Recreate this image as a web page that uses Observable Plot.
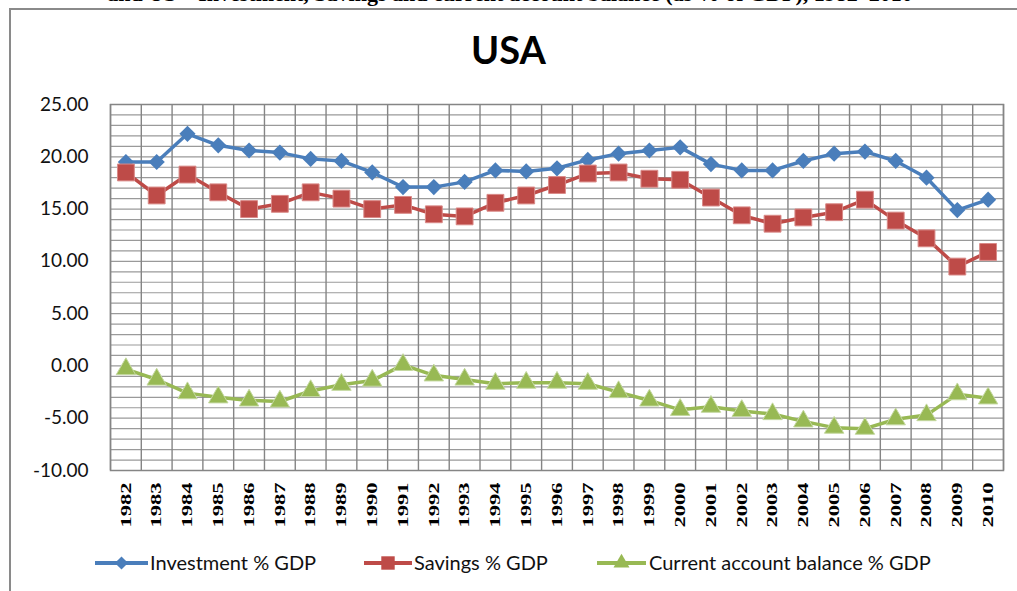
<!DOCTYPE html>
<html><head><meta charset="utf-8">
<script src="https://cdn.jsdelivr.net/npm/d3@7"></script>
<script src="https://cdn.jsdelivr.net/npm/@observablehq/plot@0.6"></script>
<style>
body{margin:0;background:#fff;}
#wrap{position:relative;width:1017px;height:591px;overflow:hidden;background:#fff;}
#frame{position:absolute;left:9px;top:8px;width:1040px;height:620px;border:2.5px solid #8a8a8a;box-sizing:border-box;}
#cap{position:absolute;left:-40px;top:-19px;width:1100px;white-space:nowrap;font:bold 22px "Liberation Serif";text-align:center;color:#000;}
#title{position:absolute;top:26px;left:0;width:1017px;text-align:center;font:bold 38px Lato;color:#000;}
#chart{position:absolute;left:0;top:80px;}
#legend{position:absolute;left:0;top:545px;}
</style></head>
<body><div id="wrap">
<div id="cap">and US – Investment, Savings and current account balance (as % of GDP), 1982–2010</div>
<div id="frame"></div>
<div id="title">USA</div>
<div id="chart"></div>
<div id="legend"></div>
</div>
<script>
const years = [1982,1983,1984,1985,1986,1987,1988,1989,1990,1991,1992,1993,1994,1995,1996,1997,1998,1999,2000,2001,2002,2003,2004,2005,2006,2007,2008,2009,2010];
const investment = [19.5,19.5,22.2,21.1,20.6,20.4,19.8,19.6,18.5,17.1,17.1,17.6,18.7,18.6,18.9,19.7,20.3,20.6,20.9,19.3,18.7,18.7,19.6,20.3,20.5,19.6,18.0,14.9,15.9];
const savings = [18.5,16.3,18.3,16.6,15.0,15.5,16.6,16.0,15.0,15.4,14.5,14.3,15.6,16.3,17.3,18.4,18.5,17.9,17.8,16.1,14.4,13.6,14.2,14.7,15.9,13.9,12.2,9.5,10.9];
const currentAccount = [-0.3,-1.3,-2.6,-3.0,-3.3,-3.4,-2.4,-1.8,-1.4,0.1,-0.9,-1.3,-1.7,-1.6,-1.6,-1.7,-2.5,-3.3,-4.2,-3.9,-4.3,-4.6,-5.3,-5.9,-6.0,-5.1,-4.7,-2.7,-3.1];
const seriesNames = ["Investment % GDP","Savings % GDP","Current account balance % GDP"];
const seriesColors = ["#4a7ebb","#be4b48","#98b954"];
const seriesSymbols = ["diamond2","square","triangle"];
const yTicks = [-10,-5,0,5,10,15,20,25];

const rows = [];
[investment, savings, currentAccount].forEach((vals, s) => {
  vals.forEach((v, i) => rows.push({year: years[i], value: v, series: seriesNames[s]}));
});
const yMinor = d3.range(-10, 26, 1);
const xBounds = d3.range(1981.5, 2011, 1);

const chart = Plot.plot({
  width: 1017, height: 460,
  marginTop: 24, marginBottom: 70, marginLeft: 110, marginRight: 14,
  style: {background: "transparent", fontFamily: "Lato"},
  x: {domain: [1981.5, 2010.5], label: null},
  y: {domain: [-10, 25], label: null},
  color: {domain: seriesNames, range: seriesColors},
  symbol: {domain: seriesNames, range: seriesSymbols},
  marks: [
    Plot.ruleY(yMinor, {stroke: "#9a9a9a", strokeWidth: 1.2, strokeOpacity: 1}),
    Plot.ruleX(xBounds, {stroke: "#858585", strokeWidth: 1.4, strokeOpacity: 1}),
    Plot.frame({stroke: "#858585", strokeWidth: 1.5}),
    Plot.axisY({ticks: yTicks, tickSize: 0, tickPadding: 22, label: null, tickFormat: d => d.toFixed(2), fontSize: 19, fill: "#111"}),
    Plot.axisX({ticks: years, tickSize: 0, tickPadding: 12, tickRotate: -90, label: null, tickFormat: d => String(d), fontSize: 15, fontWeight: "bold", fontFamily: "Liberation Serif", fill: "#000"}),
    Plot.line(rows, {x: "year", y: "value", z: "series", stroke: "series", strokeWidth: 3.5}),
    Plot.dot(rows.filter(d => d.series === seriesNames[0]), {x: "year", y: "value", symbol: "series", fill: "series", r: 7.3, stroke: null}),
    Plot.dot(rows.filter(d => d.series === seriesNames[1]), {x: "year", y: "value", symbol: "series", fill: "series", r: 9.5, stroke: "#d98a88", strokeWidth: 1}),
    Plot.dot(rows.filter(d => d.series === seriesNames[2]), {x: "year", y: "value", symbol: "series", fill: "series", r: 7.2, stroke: "#c4d8a0", strokeWidth: 1})
  ]
});
document.getElementById("chart").appendChild(chart);
// stretch rotated year labels along their reading direction
d3.select(chart).selectAll("g[aria-label='x-axis tick label'] text").each(function() {
  const t = this.getAttribute("transform") || "";
  this.setAttribute("transform", t + " scale(1.5,1)");
});

// legend
const lx = [[95,148,150],[364,412,414],[597,646,649]];
const leg = d3.create("svg").attr("width", 1017).attr("height", 40);
const sym = {diamond2: d3.symbolDiamond2, square: d3.symbolSquare, triangle: d3.symbolTriangle};
const sizes = [110, 180, 110];
seriesNames.forEach((name, i) => {
  const [a, b, t] = lx[i];
  leg.append("line").attr("x1", a).attr("x2", b).attr("y1", 18).attr("y2", 18)
    .attr("stroke", seriesColors[i]).attr("stroke-width", 4);
  leg.append("path").attr("d", d3.symbol(sym[seriesSymbols[i]], sizes[i])())
    .attr("transform", `translate(${(a+b)/2},18)`).attr("fill", seriesColors[i]);
  leg.append("text").attr("x", t).attr("y", 18).attr("dy", "0.35em")
    .attr("font-family", "Lato").attr("font-size", 20).attr("fill", "#111").text(name);
});
document.getElementById("legend").appendChild(leg.node());
</script>
</body></html>
